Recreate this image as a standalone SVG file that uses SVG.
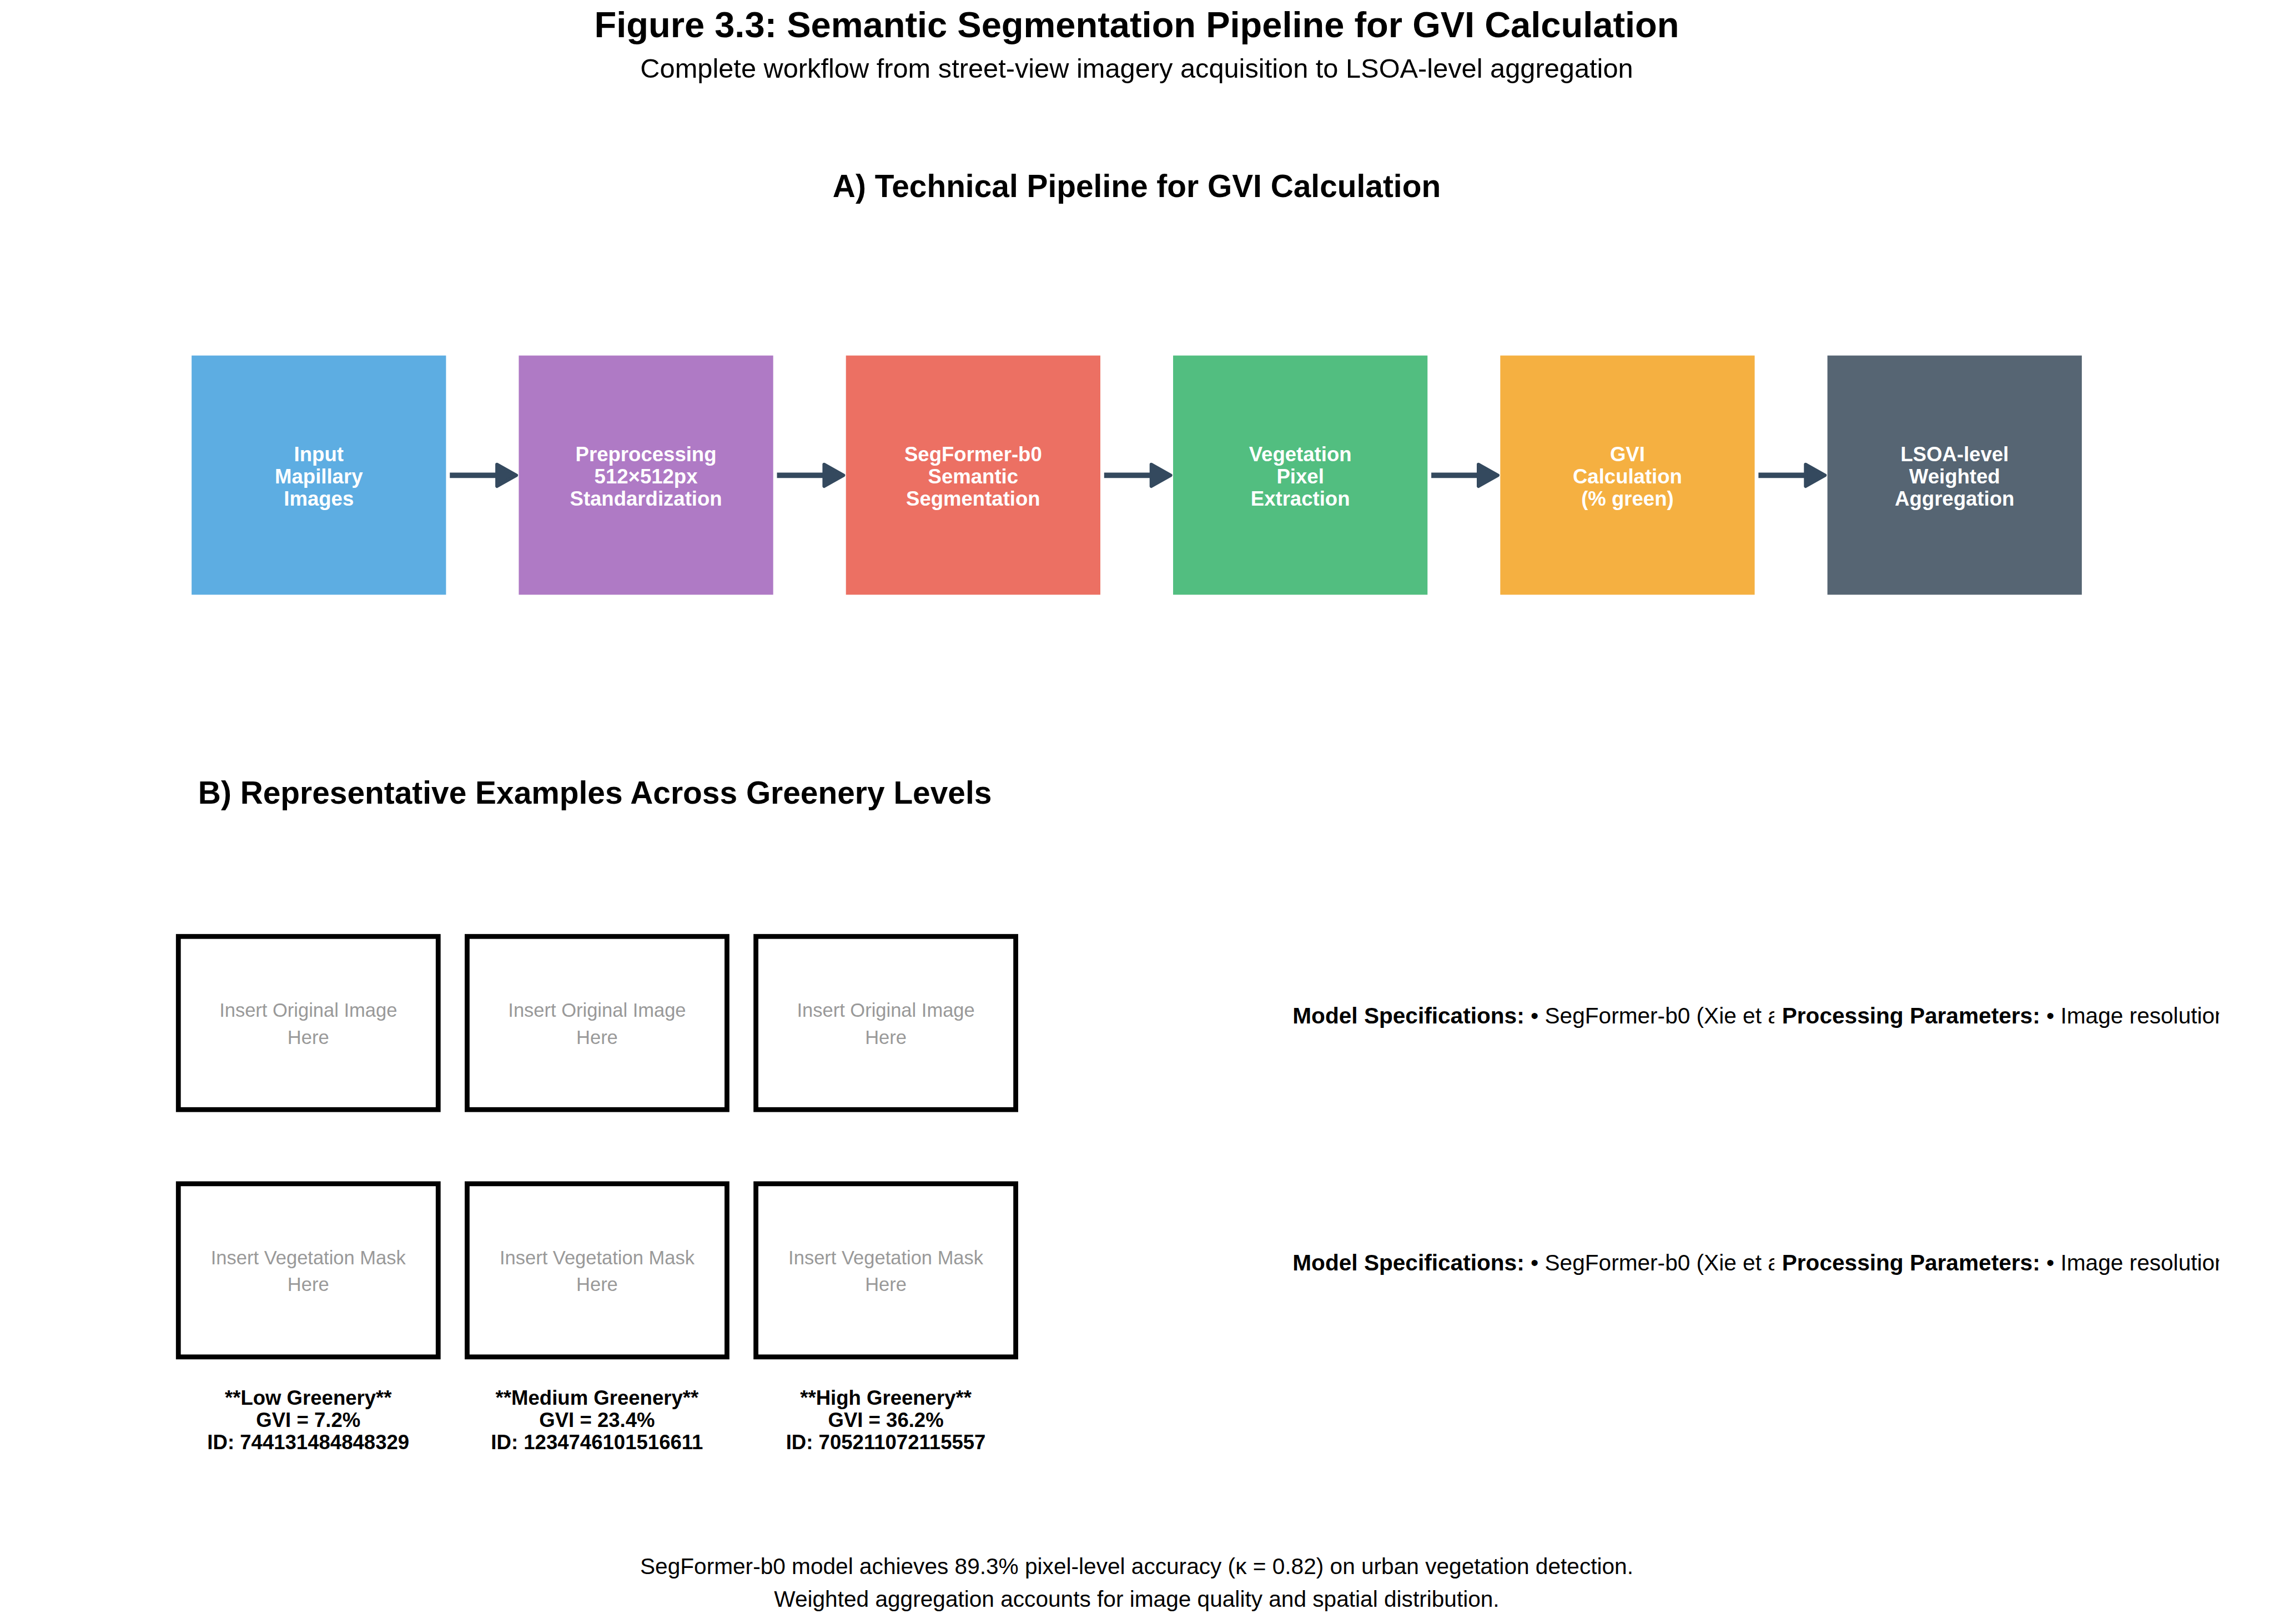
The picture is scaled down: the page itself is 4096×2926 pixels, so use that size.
<svg xmlns="http://www.w3.org/2000/svg" width="4096" height="2926" viewBox="0 0 4096 2926">
<defs>
<style>
text{font-family:"Liberation Sans",Arial,Helvetica,sans-serif;}
.title{font-size:66.67px;font-weight:bold;fill:#000;text-anchor:middle;}
.sub{font-size:50px;fill:#000;text-anchor:middle;}
.sec{font-size:58.33px;font-weight:bold;fill:#000;}
.bt{font-size:37.5px;font-weight:bold;fill:#fff;text-anchor:middle;}
.ph{fill:none;stroke:#000;stroke-width:9;}
.pht{font-size:35.4px;fill:#999;text-anchor:middle;}
.cap{font-size:37.5px;font-weight:bold;fill:#000;text-anchor:middle;}
.spec{font-size:41.67px;fill:#000;}
.b{font-weight:bold;}
.foot{font-size:41.67px;fill:#000;text-anchor:middle;}
.shaft{stroke:#34495e;stroke-width:10;fill:none;}
.head{fill:#34495e;stroke:#34495e;stroke-width:6;stroke-linejoin:round;}
</style>
<clipPath id="clipA"><rect x="2300" y="1800" width="978" height="200"/><rect x="2300" y="2250" width="978" height="200"/></clipPath>
<clipPath id="clipB"><rect x="3280" y="1800" width="820" height="200"/><rect x="3280" y="2250" width="820" height="200"/></clipPath>
</defs>
<rect x="0" y="0" width="4096" height="2926" fill="#fff"/>
<g transform="scale(0.975)">
<g id="titles">
<text class="title" x="2100" y="69">Figure 3.3: Semantic Segmentation Pipeline for GVI Calculation</text>
<text class="sub" x="2100" y="144">Complete workflow from street-view imagery acquisition to LSOA-level aggregation</text>
<text class="sec" x="2100" y="364" text-anchor="middle">A) Technical Pipeline for GVI Calculation</text>
<text class="sec" x="366" y="1485">B) Representative Examples Across Greenery Levels</text>
</g>
<g id="step1"><rect x="354" y="657" width="470" height="442" fill="#5dade2"/><text class="bt" x="589" y="852.5">Input</text><text class="bt" x="589" y="893.3">Mapillary</text><text class="bt" x="589" y="934.1">Images</text></g>
<g id="step2"><rect x="958.4" y="657" width="470" height="442" fill="#af7ac5"/><text class="bt" x="1193.4" y="852.5">Preprocessing</text><text class="bt" x="1193.4" y="893.3">512×512px</text><text class="bt" x="1193.4" y="934.1">Standardization</text></g>
<g id="step3"><rect x="1562.8" y="657" width="470" height="442" fill="#ec7063"/><text class="bt" x="1797.8" y="852.5">SegFormer-b0</text><text class="bt" x="1797.8" y="893.3">Semantic</text><text class="bt" x="1797.8" y="934.1">Segmentation</text></g>
<g id="step4"><rect x="2167.2" y="657" width="470" height="442" fill="#52be80"/><text class="bt" x="2402.2" y="852.5">Vegetation</text><text class="bt" x="2402.2" y="893.3">Pixel</text><text class="bt" x="2402.2" y="934.1">Extraction</text></g>
<g id="step5"><rect x="2771.6" y="657" width="470" height="442" fill="#f5b041"/><text class="bt" x="3006.6" y="852.5">GVI</text><text class="bt" x="3006.6" y="893.3">Calculation</text><text class="bt" x="3006.6" y="934.1">(% green)</text></g>
<g id="step6"><rect x="3376" y="657" width="470" height="442" fill="#566573"/><text class="bt" x="3611" y="852.5">LSOA-level</text><text class="bt" x="3611" y="893.3">Weighted</text><text class="bt" x="3611" y="934.1">Aggregation</text></g>
<g id="connectors">
<g transform="translate(0,0)"><line class="shaft" x1="831" y1="878.3" x2="920" y2="878.3"/><polygon class="head" points="918,858 954,878.3 918,898.6"/></g>
<g transform="translate(604.4,0)"><line class="shaft" x1="831" y1="878.3" x2="920" y2="878.3"/><polygon class="head" points="918,858 954,878.3 918,898.6"/></g>
<g transform="translate(1208.8,0)"><line class="shaft" x1="831" y1="878.3" x2="920" y2="878.3"/><polygon class="head" points="918,858 954,878.3 918,898.6"/></g>
<g transform="translate(1813.2,0)"><line class="shaft" x1="831" y1="878.3" x2="920" y2="878.3"/><polygon class="head" points="918,858 954,878.3 918,898.6"/></g>
<g transform="translate(2417.6,0)"><line class="shaft" x1="831" y1="878.3" x2="920" y2="878.3"/><polygon class="head" points="918,858 954,878.3 918,898.6"/></g>
</g>
<g id="orig1"><rect class="ph" x="329.5" y="1730.5" width="480" height="320"/><text class="pht" x="569.5" y="1879">Insert Original Image</text><text class="pht" x="569.5" y="1929">Here</text></g>
<g id="orig2"><rect class="ph" x="863" y="1730.5" width="480" height="320"/><text class="pht" x="1103" y="1879">Insert Original Image</text><text class="pht" x="1103" y="1929">Here</text></g>
<g id="orig3"><rect class="ph" x="1396.5" y="1730.5" width="480" height="320"/><text class="pht" x="1636.5" y="1879">Insert Original Image</text><text class="pht" x="1636.5" y="1929">Here</text></g>
<g id="mask1"><rect class="ph" x="329.5" y="2187.5" width="480" height="320"/><text class="pht" x="569.5" y="2336">Insert Vegetation Mask</text><text class="pht" x="569.5" y="2386">Here</text></g>
<g id="mask2"><rect class="ph" x="863" y="2187.5" width="480" height="320"/><text class="pht" x="1103" y="2336">Insert Vegetation Mask</text><text class="pht" x="1103" y="2386">Here</text></g>
<g id="mask3"><rect class="ph" x="1396.5" y="2187.5" width="480" height="320"/><text class="pht" x="1636.5" y="2336">Insert Vegetation Mask</text><text class="pht" x="1636.5" y="2386">Here</text></g>
<g id="caption1"><text class="cap" x="569.5" y="2596">**Low Greenery**</text><text class="cap" x="569.5" y="2637">GVI = 7.2%</text><text class="cap" x="569.5" y="2678">ID: 744131484848329</text></g>
<g id="caption2"><text class="cap" x="1103" y="2596">**Medium Greenery**</text><text class="cap" x="1103" y="2637">GVI = 23.4%</text><text class="cap" x="1103" y="2678">ID: 1234746101516611</text></g>
<g id="caption3"><text class="cap" x="1636.5" y="2596">**High Greenery**</text><text class="cap" x="1636.5" y="2637">GVI = 36.2%</text><text class="cap" x="1636.5" y="2678">ID: 705211072115557</text></g>
<g id="specs-row1">
<text class="spec" x="2388" y="1891" clip-path="url(#clipA)"><tspan class="b">Model Specifications:</tspan> • SegFormer-b0 (Xie et al</text>
<text class="spec" x="3292" y="1891" clip-path="url(#clipB)"><tspan class="b">Processing Parameters:</tspan> • Image resolution</text>
</g>
<g id="specs-row2">
<text class="spec" x="2388" y="2348" clip-path="url(#clipA)"><tspan class="b">Model Specifications:</tspan> • SegFormer-b0 (Xie et al</text>
<text class="spec" x="3292" y="2348" clip-path="url(#clipB)"><tspan class="b">Processing Parameters:</tspan> • Image resolution</text>
</g>
<g id="footer">
<text class="foot" x="2100" y="2909">SegFormer-b0 model achieves 89.3% pixel-level accuracy (κ = 0.82) on urban vegetation detection.</text>
<text class="foot" x="2100" y="2969">Weighted aggregation accounts for image quality and spatial distribution.</text>
</g>
</g>
</svg>
